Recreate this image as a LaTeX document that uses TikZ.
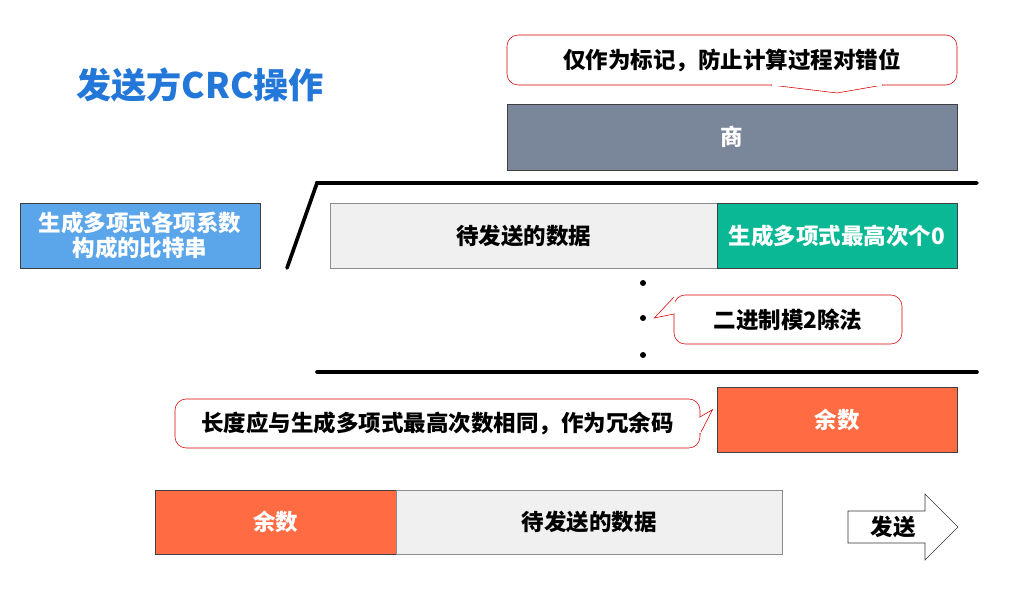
\documentclass[tikz,border=0pt]{standalone}
\usepackage{fontspec}
\setmainfont{Noto Sans CJK SC}
\definecolor{titleblue}{HTML}{2277D8}
\definecolor{slate}{HTML}{7A8699}
\definecolor{skyblue}{HTML}{5BA5EA}
\definecolor{teal}{HTML}{0BB895}
\definecolor{coral}{HTML}{FF6B42}
\definecolor{paper}{HTML}{F0F0F0}
\tikzset{
  sz/.style 2 args={minimum width=#1*0.025cm, minimum height=#2*0.025cm},
  box/.style={draw=black!75, inner sep=0pt, align=center,
    font=\fontsize{16}{19}\selectfont\bfseries},
  note/.style={draw=red!85!black, fill=white, rounded corners=8pt, inner sep=0pt,
    font=\fontsize{16}{19}\selectfont\bfseries},
  tip/.style={draw=red!85!black, fill=white, line join=miter},
  bar/.style={line width=2.6pt, line cap=round}
}
\begin{document}
\begin{tikzpicture}[x=0.025cm, y=-0.025cm]
\useasboundingbox (0,0) rectangle (1019,589);

\node[text=titleblue, font=\fontsize{25}{29}\selectfont\bfseries] (title) at (200,85) {发送方CRC操作};

% Zeile oben
\node[note, sz={450}{50}] (mark) at (732,60) {仅作为标记，防止计算过程对错位};
\filldraw[tip] (771,85) -- (837,93) -- (883,85);
\draw[white, line width=1.2pt] (772,85) -- (882,85);
\node[box, sz={450}{66}, fill=slate, text=white] (quot) at (732,137) {商};

% Divisionsstrich
\draw[bar] (287,268) -- (317,183) -- (977,183);
\draw[bar] (317,372) -- (977,372);

\node[box, sz={240}{65}, fill=skyblue, text=white] (poly) at (140,235.5) {生成多项式各项系数\\[-1pt]构成的比特串};
\node[box, draw=black!45, sz={387}{65}, fill=paper] (data) at (523.5,235.5) {待发送的数据};
\node[box, sz={240}{65}, fill=teal, text=white] (zeros) at (837,235.5) {生成多项式最高次个0};

% Punkte
\foreach \y [count=\i] in {283, 318, 355}
  \fill (643,\y) circle (3) coordinate (d\i);

\node[note, sz={228}{49}] (mod) at (788,319.5) {二进制模2除法};
\filldraw[tip] (674,297) -- ([xshift=8]d2) -- (674,314);
\draw[white, line width=1.2pt] (674,298) -- (674,313);

\node[box, sz={240}{65}, fill=coral, text=white] (rem) at (837,419.5) {余数};
\node[note, sz={525}{49}] (len) at (437.5,423.5) {长度应与生成多项式最高次数相同，作为冗余码};
\filldraw[tip] (700,417) -- ([xshift=-3,yshift=7]rem.west) -- (700,434);
\draw[white, line width=1.2pt] (700,418) -- (700,433);

% Zeile unten
\node[box, sz={241}{64}, fill=coral, text=white] (rem2) at (275.5,522) {余数};
\node[box, draw=black!45, sz={386}{64}, fill=paper] (data2) at (589,522) {待发送的数据};

\draw[black!80] (848,511) -- (925,511) -- (925,494) -- (958,527) -- (925,560) -- (925,543) -- (848,543) -- cycle;
\node[font=\fontsize{16}{19}\selectfont\bfseries] (send) at (893,527) {发送};
\end{tikzpicture}
\end{document}
